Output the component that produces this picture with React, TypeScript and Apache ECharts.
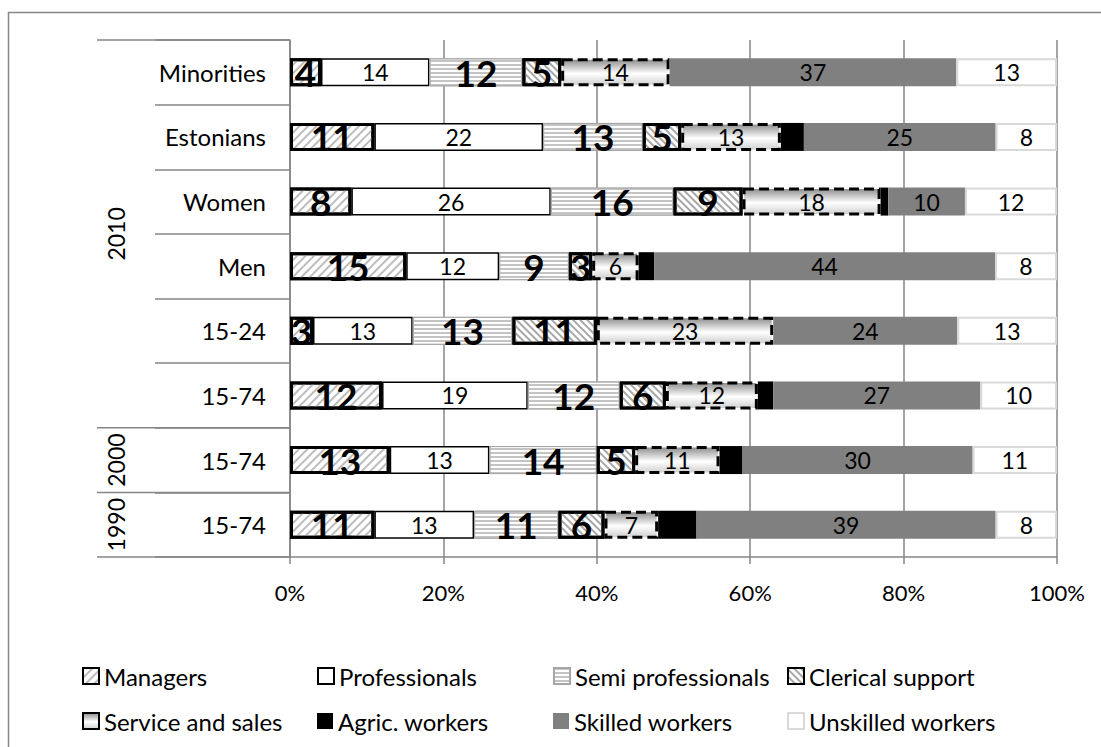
import React, { useEffect, useRef } from "react";
import * as echarts from "echarts";

// ---------- data ----------
const categories = ["Minorities", "Estonians", "Women", "Men", "15-24", "15-74|2010", "15-74|2000", "15-74|1990"];
const yearGroups = ["2010", "2000", "1990"];
// first and last category index of each year group
const groupStart = [0, 6, 7];
const groupEnd = [5, 6, 7];

const seriesNames = [
  "Managers",
  "Professionals",
  "Semi professionals",
  "Clerical support",
  "Service and sales",
  "Agric. workers",
  "Skilled workers",
  "Unskilled workers",
];

const managers = [4, 11, 8, 15, 3, 12, 13, 11];
const professionals = [14, 22, 26, 12, 13, 19, 13, 13];
const semiProfessionals = [12, 13, 16, 9, 13, 12, 14, 11];
const clericalSupport = [5, 5, 9, 3, 11, 6, 5, 6];
const serviceSales = [14, 13, 18, 6, 23, 12, 11, 7];
const agricWorkers = [0, 3, 1, 2, 0, 2, 3, 5];
const skilledWorkers = [37, 25, 10, 44, 24, 27, 30, 39];
const unskilledWorkers = [13, 8, 12, 8, 13, 10, 11, 8];

const rawSeries = [
  managers,
  professionals,
  semiProfessionals,
  clericalSupport,
  serviceSales,
  agricWorkers,
  skilledWorkers,
  unskilledWorkers,
];

// ---------- styles ----------
const FONT = "Lato, 'Noto Sans', sans-serif";
const GRID_COLOR = "#868686";

const bigLabel = {
  show: true,
  position: "inside",
  fontSize: 37,
  fontWeight: "bold",
  color: "#000",
  fontFamily: FONT,
};
const smallLabel = {
  show: true,
  position: "inside",
  fontSize: 23,
  color: "#000",
  fontFamily: FONT,
};

const seriesStyles: any[] = [
  {
    itemStyle: {
      color: "#ffffff",
      borderColor: "#000",
      borderWidth: 3,
      decal: {
        symbol: "rect",
        symbolSize: 1,
        color: "#bdbdbd",
        dashArrayX: [1, 0],
        dashArrayY: [2, 4],
        rotation: -Math.PI / 4,
      },
    },
    label: bigLabel,
  },
  {
    itemStyle: { color: "#ffffff", borderColor: "#000", borderWidth: 1.5 },
    label: smallLabel,
  },
  {
    itemStyle: {
      color: "#ffffff",
      borderColor: "#a6a6a6",
      borderWidth: 1,
      decal: {
        symbol: "rect",
        symbolSize: 1,
        color: "#c4c4c4",
        dashArrayX: [1, 0],
        dashArrayY: [2, 2],
        rotation: 0,
      },
    },
    label: bigLabel,
  },
  {
    itemStyle: {
      color: "#ffffff",
      borderColor: "#000",
      borderWidth: 3,
      decal: {
        symbol: "rect",
        symbolSize: 1,
        color: "#a8a8a8",
        dashArrayX: [1, 0],
        dashArrayY: [1.5, 2.5],
        rotation: Math.PI / 4,
      },
    },
    label: bigLabel,
  },
  {
    itemStyle: {
      color: {
        type: "linear",
        x: 0,
        y: 0,
        x2: 0,
        y2: 1,
        colorStops: [
          { offset: 0, color: "#8f8f8f" },
          { offset: 0.55, color: "#ffffff" },
          { offset: 1, color: "#d0d0d0" },
        ],
      },
      borderColor: "#000",
      borderWidth: 3,
      borderType: [10, 5],
    },
    label: smallLabel,
  },
  {
    itemStyle: { color: "#000000" },
    label: { show: false },
  },
  {
    itemStyle: { color: "#808080" },
    label: smallLabel,
  },
  {
    itemStyle: { color: "#ffffff", borderColor: "#d9d9d9", borderWidth: 2 },
    label: smallLabel,
  },
];

const legendLeft = [82, 317, 553, 787];
const legendTop = [664, 709];

export default function App() {
  const ref = useRef<HTMLDivElement>(null);

  useEffect(() => {
    document.body.style.margin = "0";
    document.body.style.overflow = "hidden";
    if (!ref.current) return;
    const chart = echarts.init(ref.current, undefined, { renderer: "svg" });

    const totals = categories.map((_, i) => rawSeries.reduce((s, arr) => s + arr[i], 0));

    const series = seriesNames.map((name, si) => ({
      name,
      type: "bar",
      stack: "total",
      barWidth: 28,
      ...seriesStyles[si],
      label: {
        ...seriesStyles[si].label,
        formatter: (p: any) => String(rawSeries[si][p.dataIndex]),
      },
      emphasis: { disabled: true },
      data: rawSeries[si].map((v, i) => (v / totals[i]) * 100),
    }));

    const legends = seriesNames.map((name, si) => ({
      data: [{ name, icon: "rect" }],
      left: legendLeft[si % 4],
      top: legendTop[Math.floor(si / 4)],
      orient: "horizontal",
      padding: 0,
      itemWidth: 16,
      itemHeight: 16,
      selectedMode: false,
      textStyle: { fontSize: 24, color: "#000", fontFamily: FONT, lineHeight: 24 },
    }));

    const option: any = {
      animation: false,
      textStyle: { fontFamily: FONT },
      grid: { left: 290, right: 44, top: 40, bottom: 190, containLabel: false },
      xAxis: {
        type: "value",
        min: 0,
        max: 100,
        interval: 20,
        axisLine: { show: true, lineStyle: { color: GRID_COLOR, width: 1.5 } },
        axisTick: { show: true, length: 7, lineStyle: { color: GRID_COLOR, width: 1.5 } },
        splitLine: { show: true, lineStyle: { color: GRID_COLOR, width: 1.5 } },
        axisLabel: {
          formatter: "{value}%",
          fontSize: 22,
          color: "#000",
          fontFamily: FONT,
          margin: 24,
        },
      },
      yAxis: {
        type: "category",
        inverse: true,
        data: categories,
        axisLine: { show: true, lineStyle: { color: GRID_COLOR, width: 1.5 } },
        axisTick: { show: true, length: 135, lineStyle: { color: GRID_COLOR, width: 1.5 } },
        axisLabel: {
          formatter: (v: string) => v.split("|")[0],
          fontSize: 24,
          color: "#000",
          fontFamily: FONT,
          margin: 24,
        },
      },
      legend: legends,
      series,
    };

    chart.setOption(option);

    // graphics derived from the axes
    const axisX = chart.convertToPixel({ xAxisIndex: 0 }, 0) as number;
    const c0 = chart.convertToPixel({ yAxisIndex: 0 }, 0) as number;
    const c1 = chart.convertToPixel({ yAxisIndex: 0 }, 1) as number;
    const band = c1 - c0;
    const edge = (k: number) => c0 - band / 2 + k * band;

    const graphics: any[] = [
      {
        type: "rect",
        silent: true,
        z: -10,
        shape: { x: 8.5, y: 12.5, width: 1300, height: 900 },
        style: { fill: "none", stroke: GRID_COLOR, lineWidth: 1.5 },
      },
    ];
    const boundaries = [0, ...groupEnd.map((e) => e + 1)];
    boundaries.forEach((k) => {
      const y = edge(k);
      graphics.push({
        type: "line",
        silent: true,
        shape: { x1: axisX - 193, y1: y, x2: axisX, y2: y },
        style: { stroke: GRID_COLOR, lineWidth: 1.5 },
      });
    });
    yearGroups.forEach((g, gi) => {
      const yMid = (edge(groupStart[gi]) + edge(groupEnd[gi] + 1)) / 2;
      graphics.push({
        type: "text",
        silent: true,
        x: axisX - 174,
        y: yMid,
        rotation: Math.PI / 2,
        style: {
          text: g,
          fontSize: 23,
          fontFamily: FONT,
          fill: "#000",
          align: "center",
          verticalAlign: "middle",
        },
      });
    });

    chart.setOption({ graphic: graphics });

    return () => chart.dispose();
  }, []);

  return <div ref={ref} style={{ width: 1101, height: 747 }} />;
}
